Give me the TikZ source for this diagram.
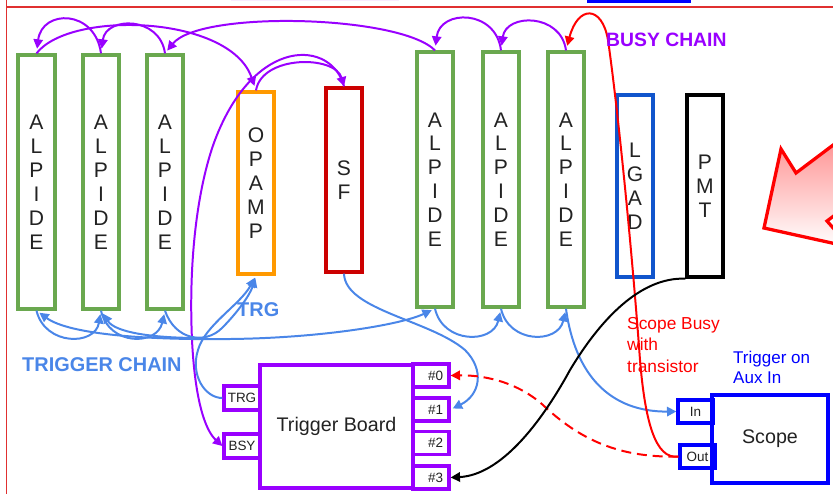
\documentclass[tikz,border=0pt]{standalone}
\usepackage{fontspec}
\setmainfont{Liberation Sans}
\usetikzlibrary{arrows.meta}
\definecolor{cgreen}{HTML}{6AA84F}
\definecolor{corange}{HTML}{FF9900}
\definecolor{cdred}{HTML}{CC0000}
\definecolor{clgad}{HTML}{1155CC}
\definecolor{cpurple}{HTML}{9900FF}
\definecolor{cblue}{HTML}{4A86E8}
\definecolor{cscope}{HTML}{0000FF}
\definecolor{cred}{HTML}{FF0000}
\definecolor{cframe}{HTML}{E03030}
\definecolor{ctext}{HTML}{222222}

\begin{document}
\begin{tikzpicture}[x=0.03cm,y=-0.03cm,
  >={Triangle[length=8pt,width=8pt]},
  sz/.style 2 args={minimum width=#1*0.03cm, minimum height=#2*0.03cm},
  box/.style={draw, line width=2.8pt, inner sep=0pt, text=ctext,
    font=\fontsize{18}{20.4}\selectfont, align=center},
  port/.style={draw, line width=2.8pt, inner sep=0pt, text=ctext,
    font=\fontsize{11.5}{13}\selectfont},
  lab/.style={inner sep=0pt, anchor=west},
  wire/.style={line width=1.7pt}
]
\useasboundingbox (0,0) rectangle (833,494);

% page frame and top strip
\draw[cframe, line width=1.3pt] (6.5,0) -- (6.5,494);
\draw[cframe, line width=1.3pt] (6.5,7) -- (833,7);
\fill[cscope] (587,0) rectangle (691,2.5);
\fill[cpurple!8] (231,0) rectangle (399,1.2);

% big block arrow entering from the right
\begin{scope}
  \clip (0,0) rectangle (833,494);
  \draw[cred, line width=2.8pt, line join=miter, top color=red!55!white, bottom color=white]
    (764,228) -- (781,149) -- (796,173) -- (881,109) -- (912,157) -- (827,221) -- (850,247) -- cycle;
\end{scope}

% detector planes
\node[box, draw=cgreen, sz={37}{254}] (a1) at (36.5,182) {A\\L\\P\\I\\D\\E};
\node[box, draw=cgreen, sz={36}{254}] (a2) at (101,182) {A\\L\\P\\I\\D\\E};
\node[box, draw=cgreen, sz={36}{254}] (a3) at (165,182) {A\\L\\P\\I\\D\\E};
\node[box, draw=corange, sz={36}{182}] (opamp) at (256,183) {O\\P\\A\\M\\P};
\node[box, draw=cdred, sz={36}{184}] (sf) at (344,180) {S\\F};
\node[box, draw=cgreen, sz={36}{255}] (a4) at (435,179.5) {A\\L\\P\\I\\D\\E};
\node[box, draw=cgreen, sz={36}{255}] (a5) at (501,179.5) {A\\L\\P\\I\\D\\E};
\node[box, draw=cgreen, sz={36}{255}] (a6) at (566,179.5) {A\\L\\P\\I\\D\\E};
\node[box, draw=clgad, sz={36}{182}] (lgad) at (635,186) {L\\G\\A\\D};
\node[box, draw=black, sz={36}{182}] (pmt) at (705,186) {P\\M\\T};

% trigger board with its ports
\node[box, draw=cpurple, sz={153}{123}, font=\fontsize{16.8}{20}\selectfont] (tb) at (336.5,426.5) {Trigger Board};
\node[port, draw=cpurple, sz={36}{24}] (trgp) at (242,398) {TRG};
\node[port, draw=cpurple, sz={36}{24}] (bsyp) at (242,446) {BSY};
\node[port, draw=cpurple, sz={36}{23}, text width=24*0.03cm, align=right] (p0) at (431,375.5) {\#0};
\node[port, draw=cpurple, sz={36}{23}, text width=24*0.03cm, align=right] (p1) at (431,409.5) {\#1};
\node[port, draw=cpurple, sz={36}{23}, text width=24*0.03cm, align=right] (p2) at (431,443) {\#2};
\node[port, draw=cpurple, sz={36}{23}, text width=24*0.03cm, align=right] (p3) at (431,477.5) {\#3};

% scope with its ports
\node[box, draw=cscope, sz={116}{88}, font=\fontsize{16.8}{20}\selectfont] (scope) at (770,439) {Scope};
\node[port, draw=cscope, sz={35}{23}] (inp) at (695.5,411.5) {In};
\node[port, draw=cscope, sz={35}{23}] (outp) at (697.5,456.5) {Out};

% busy chain
\begin{scope}[wire, cpurple]
  \draw[->, shorten >=4pt] (a2.north) .. controls (95,9) and (42,9) .. (a1.north);
  \draw[->, shorten >=4pt] (a3.north) .. controls (160,16) and (106,16) .. (a2.north);
  \draw[->, shorten >=4pt] (a1.north) .. controls (70,10) and (230,15) .. (opamp.north);
  \draw[->, shorten >=3pt] (a4.north) .. controls (400,15) and (200,10) .. (a3.north);
  \draw[->, shorten >=4pt] (a5.north) .. controls (496,9) and (440,9) .. (a4.north);
  \draw[->, shorten >=4pt] (a6.north) .. controls (561,13) and (506,13) .. (a5.north);
  \draw[->] (opamp.north) .. controls (262,55) and (335,55) .. (sf.north);
  \draw[->] (sf.north) .. controls (332,40) and (255,35) .. (215,140)
    .. controls (200,180) and (188,250) .. (192,340)
    .. controls (195,400) and (205,430) .. (bsyp.west);
\end{scope}

% trigger chain
\coordinate (hub) at (200,338);
\begin{scope}[wire, cblue]
  \draw[<->, shorten <=3pt, shorten >=3pt] (a1.south) .. controls (70,335) and (150,340) .. (230,339)
    .. controls (320,338) and (400,325) .. (a4.south);
  \draw[->, shorten >=3pt] (a1.south) .. controls (45,346) and (95,346) .. (a2.south);
  \draw[->, shorten >=3pt] (a2.south) .. controls (109,346) and (157,346) .. (a3.south);
  \draw[->, shorten >=3pt] (hub) .. controls (150,338) and (115,332) .. (a2.south);
  \draw[->, shorten >=2pt] (a3.south) .. controls (175,340) and (205,345) .. (222,328)
    .. controls (237,313) and (250,295) .. (opamp.south);
  \draw[->, shorten >=2pt] (trgp.west) .. controls (205,398) and (190,375) .. (198,350)
    .. controls (205,325) and (240,305) .. (opamp.south);
  \draw[->, shorten >=3pt] (a4.south) .. controls (443,344) and (493,344) .. (a5.south);
  \draw[->, shorten >=3pt] (a5.south) .. controls (509,344) and (558,344) .. (a6.south);
  \draw[->] (a6.south) .. controls (575,375) and (610,412) .. (inp.west);
  \draw[->, shorten >=2pt] (sf.south) .. controls (345,310) and (430,320) .. (465,350)
    .. controls (485,370) and (480,395) .. (p1.east);
\end{scope}

% scope busy and PMT signal
\draw[wire, cred, ->, shorten >=4pt] (outp.west) .. controls (655,460) and (645,420) .. (640,360)
  .. controls (632,250) and (618,110) .. (608,40)
  .. controls (602,5) and (578,5) .. (a6.north);
\draw[wire, cred, dash pattern=on 8.5pt off 5pt, ->] (outp.west) .. controls (620,458) and (580,440) .. (543,405)
  .. controls (515,380) and (480,375) .. (p0.east);
\draw[wire, black, ->] (pmt.south west) .. controls (640,277) and (600,320) .. (570,370)
  .. controls (540,425) and (500,475) .. (p3.east);

% captions
\node[lab, text=cpurple, font=\bfseries\fontsize{16.5}{20}\selectfont] (busylab) at (606,40) {BUSY CHAIN};
\node[lab, text=cblue, font=\bfseries\fontsize{17}{20}\selectfont] (triglab) at (22,365) {TRIGGER CHAIN};
\node[lab, text=cblue, font=\bfseries\fontsize{17}{20}\selectfont] (trglab) at (237,310) {TRG};
\node[lab, text=cred, align=left, font=\fontsize{14.8}{18.7}\selectfont] (busynote) at (627,345) {Scope Busy\\with\\transistor};
\node[lab, text=cscope, align=left, font=\fontsize{14.5}{17}\selectfont] (auxnote) at (733,367) {Trigger on\\Aux In};
\end{tikzpicture}
\end{document}
